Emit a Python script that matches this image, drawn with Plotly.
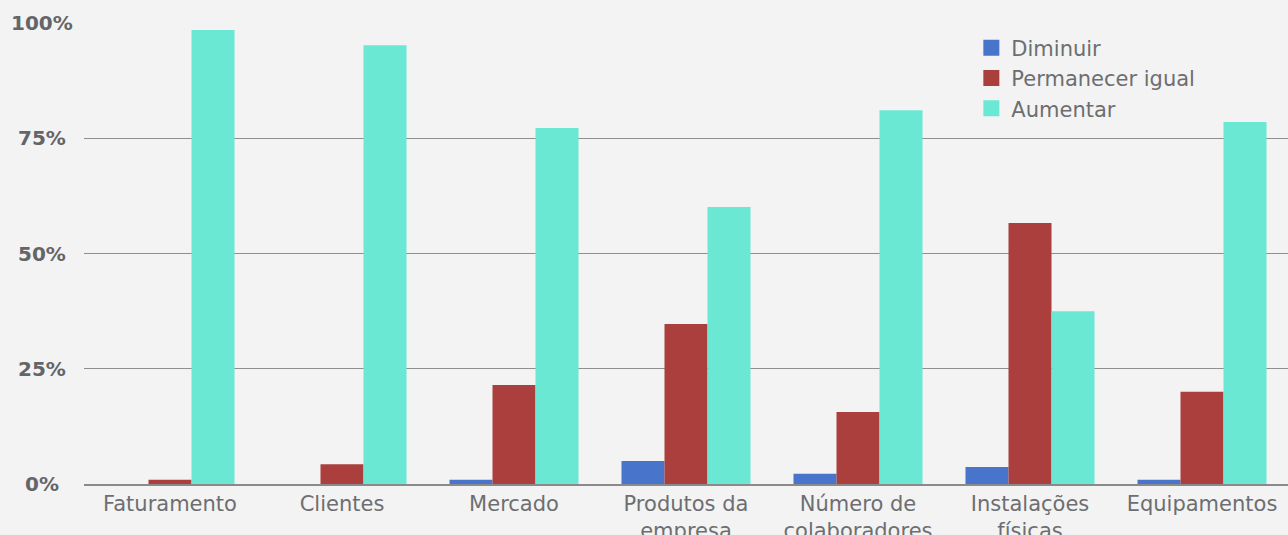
import plotly.graph_objects as go

categories = ["Faturamento", "Clientes", "Mercado", "Produtos da<br>empresa",
              "Número de<br>colaboradores", "Instalações<br>físicas", "Equipamentos"]
diminuir = [0, 0, 0.9, 5.0, 2.2, 3.7, 0.9]
permanecer = [0.9, 4.3, 21.5, 34.7, 15.6, 56.6, 20.0]
aumentar = [98.5, 95.2, 77.2, 60.1, 81.1, 37.5, 78.5]
series_names = ["Diminuir", "Permanecer igual", "Aumentar"]
colors = ["#4874cc", "#aa3f3d", "#6ae8d3"]
y_ticks = [0, 25, 50, 75, 100]

FONT = "DejaVu Sans"
GRAY = "#6d6e71"

fig = go.Figure()
for name, vals, col in zip(series_names, [diminuir, permanecer, aumentar], colors):
    fig.add_trace(go.Bar(x=categories, y=vals, name=name, marker_color=col,
                         marker_line_width=0, showlegend=False))
for name, col in zip(series_names, colors):
    fig.add_trace(go.Scatter(x=[None], y=[None], mode="markers", name=name,
                             marker=dict(symbol="square", size=22, color=col)))

for v in y_ticks:
    fig.add_annotation(x=-0.0349, xref="paper", y=v, yref="y", text=f"<b>{v}%</b>",
                       showarrow=False, xanchor="center", yanchor="middle",
                       font=dict(family=FONT, size=20, color="#646569"))

fig.update_layout(
    template="none",
    width=1288, height=535,
    paper_bgcolor="#f3f3f3", plot_bgcolor="#f3f3f3",
    margin=dict(l=84, r=0, t=23, b=51),
    barmode="group", bargap=0.25, bargroupgap=0,
    font=dict(family=FONT, color=GRAY),
    legend=dict(x=0.737, y=0.99, xanchor="left", yanchor="top",
                font=dict(size=21, color=GRAY, family=FONT), tracegroupgap=0,
                bgcolor="rgba(0,0,0,0)", itemwidth=30),
    xaxis=dict(automargin=False, showline=True, linecolor="#8a8a8a", linewidth=1.5,
               showgrid=False, tickfont=dict(size=21, color=GRAY, family=FONT), ticks=""),
    yaxis=dict(automargin=False, range=[0, 100], tickvals=y_ticks,
               showticklabels=False,
               showgrid=True, gridcolor="#8f8f8f", gridwidth=1.2,
               zeroline=False, ticks=""),
)
fig.write_html("out.html")
